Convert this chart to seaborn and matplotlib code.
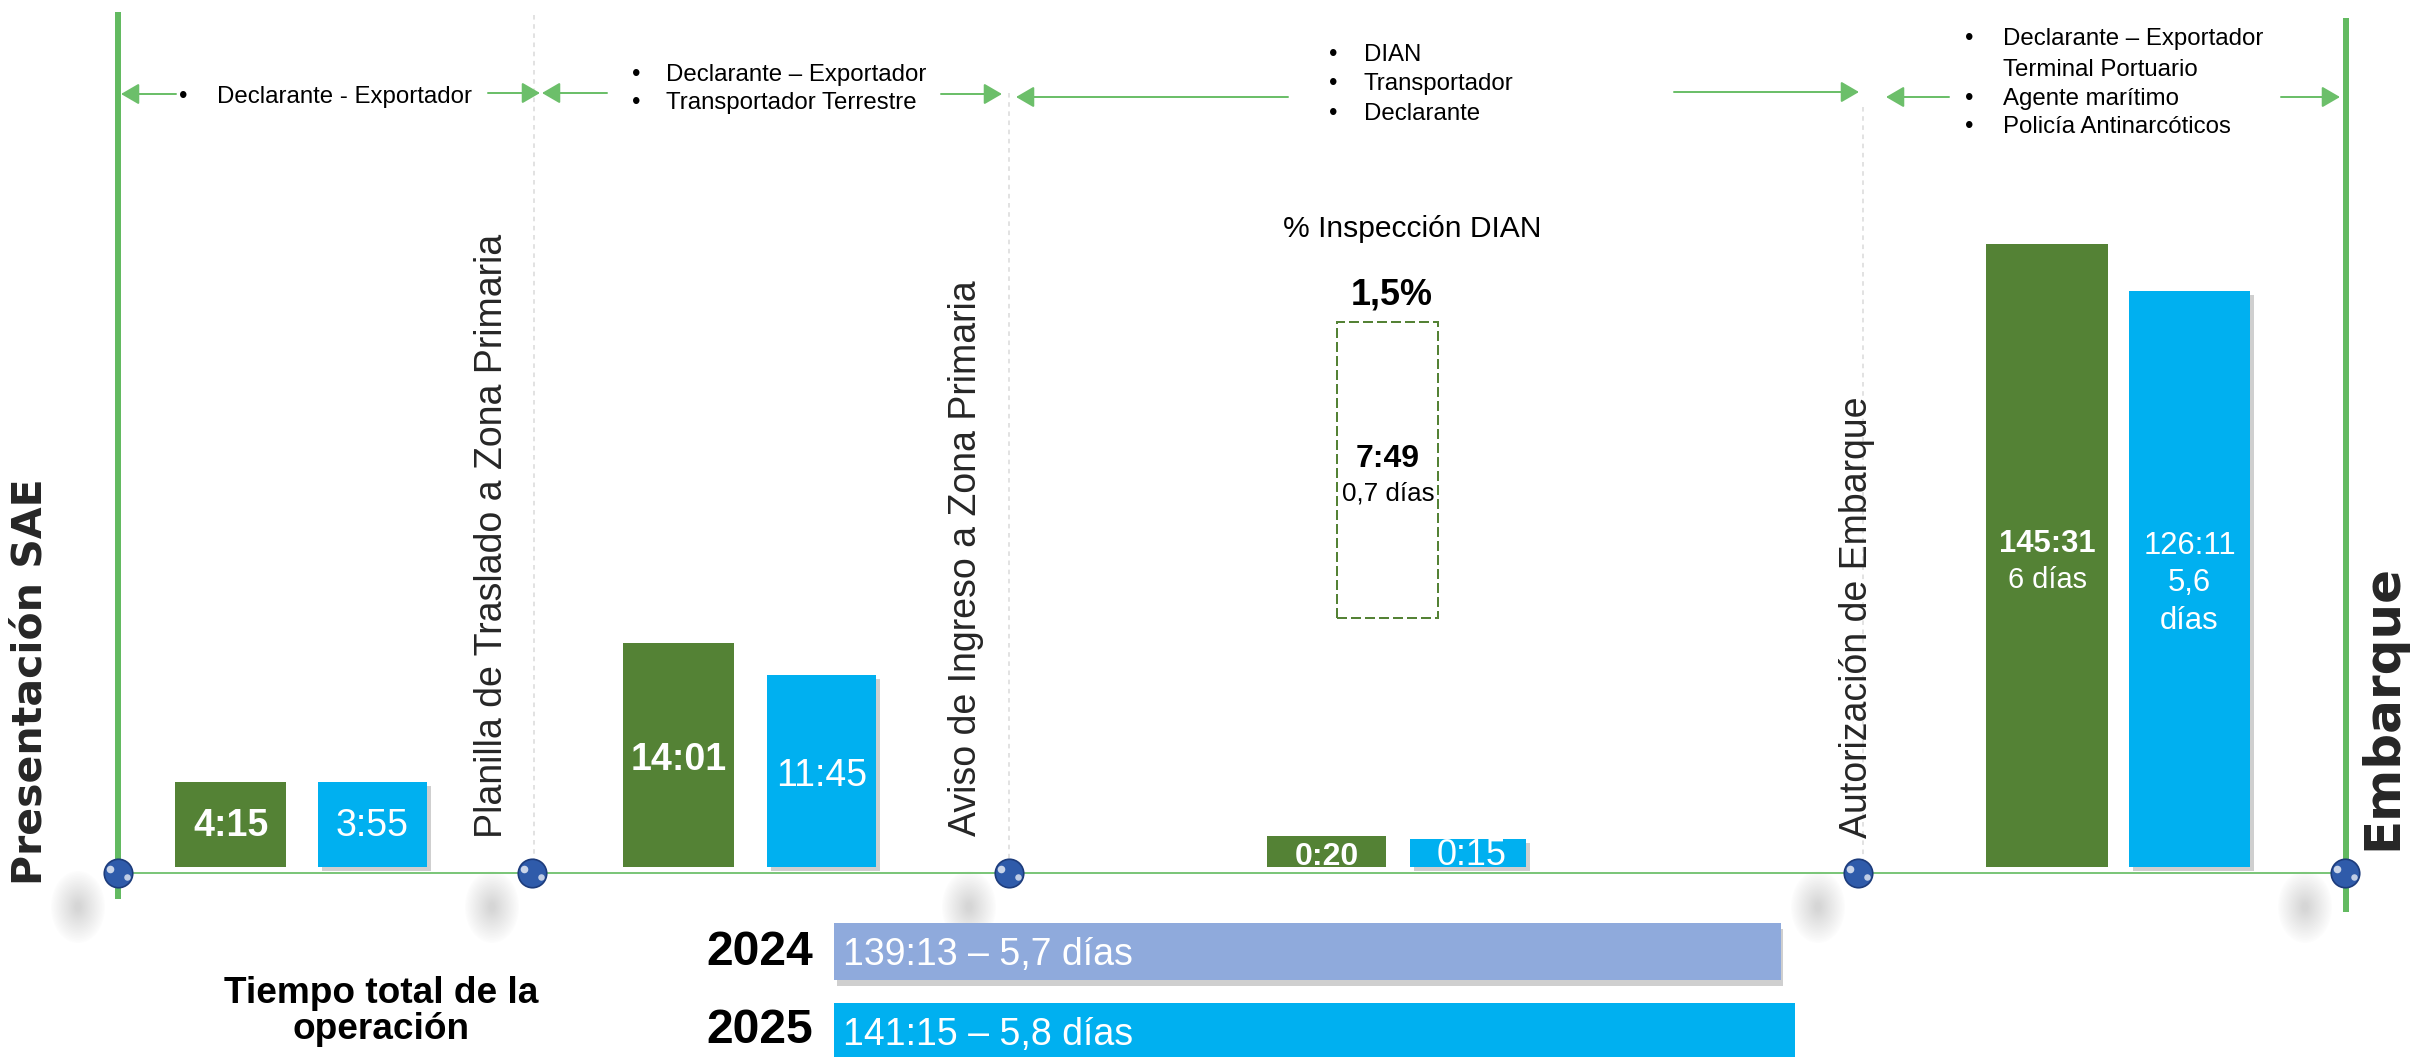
import numpy as np
import pandas as pd
import matplotlib
matplotlib.use("Agg")
import matplotlib.pyplot as plt
import matplotlib.patheffects as pe
from matplotlib.patches import Rectangle, Ellipse
import seaborn as sns

# ------------------------------------------------------------------ data
hitos = ["Presentación SAE", "Planilla de Traslado a Zona Primaria",
         "Aviso de Ingreso a Zona Primaria", "Autorización de Embarque", "Embarque"]
anios = ["2024", "2025"]
tiempos_2024 = ["4:15", "14:01", "0:20", "145:31"]
tiempos_2025 = ["3:55", "11:45", "0:15", "126:11"]
dias_2024 = ["", "", "", "6 días"]
dias_2025 = ["", "", "", "5,6 días"]
alturas_2024 = [91, 230, 37, 629]      # bar heights as drawn in the picture
alturas_2025 = [91, 198, 34, 582]
inspeccion_titulo = "% Inspección DIAN"
inspeccion_pct = "1,5%"
inspeccion_tiempo = "7:49"
inspeccion_dias = "0,7 días"
total_titulo = ["Tiempo total de la", "operación"]
total_etiquetas = ["139:13 – 5,7 días", "141:15 – 5,8 días"]
total_horas = [139 + 13 / 60, 141 + 15 / 60]
actores = [
    ["Declarante - Exportador"],
    ["Declarante – Exportador", "Transportador Terrestre"],
    ["DIAN", "Transportador", "Declarante"],
    ["Declarante – Exportador", "Terminal Portuario", "Agente marítimo", "Policía Antinarcóticos"],
]

# ------------------------------------------------------------------ style / layout
GREEN = "#548235"
BLUE = "#00B0F0"
LAV = "#8FAADC"
LINE_G = "#63BA61"
ARROW_G = "#6CBF6A"
W, H, BASE = 2410, 1057, 873
PX = 0.72  # points per pixel at dpi 100

sns.set_theme(style="white")
plt.rcParams["font.family"] = ["Liberation Sans", "DejaVu Sans"]

fig = plt.figure(figsize=(W / 100, H / 100), dpi=100)
fig.patch.set_facecolor("white")
ax = fig.add_axes([0, 0, 1, 1])


def Y(p):
    return BASE - p


def txt(axx, x, yc, s, px, bold=False, color="black", ha="center", family=None, cap=0.36):
    kw = dict(ha=ha, va="baseline", fontsize=px * PX, color=color,
              fontweight="bold" if bold else "normal", transform=ax.transData, zorder=10)
    if family:
        kw["family"] = family
    axx.text(x, Y(yc + cap * px), s, **kw)


# ------------------------------------------------------------------ stage bars (seaborn)
centros_g = [230.5, 678.5, 1326.5, 2047]
anchos_g = [111, 111, 119, 122]
centros_b = [372.5, 821.5, 1468, 2189.5]
anchos_b = [109, 109, 116, 121]
base_off = 6

df = pd.DataFrame({
    "x": centros_g + centros_b,
    "altura": alturas_2024 + alturas_2025,
    "anio": ["2024"] * 4 + ["2025"] * 4,
})
n0 = len(ax.patches)
sns.barplot(data=df, x="x", y="altura", hue="anio", native_scale=True, dodge=False,
            palette={"2024": GREEN, "2025": BLUE}, saturation=1, errorbar=None,
            legend=False, ax=ax, width=0.6, zorder=4)
geo = {c: w for c, w in zip(centros_g + centros_b, anchos_g + anchos_b)}
for p in ax.patches[n0:]:
    cx = p.get_x() + p.get_width() / 2
    c = min(geo, key=lambda k: abs(k - cx))
    w = geo[c]
    h = p.get_height()
    p.set_x(c - w / 2)
    p.set_width(w)
    p.set_y(base_off)
    p.set_height(h - base_off)
    p.set_linewidth(0)
    if c in centros_b:
        p.set_path_effects([pe.SimplePatchShadow(offset=(3, -3), shadow_rgbFace="#777777", alpha=0.35),
                            pe.Normal()])

ax.set_xlim(0, W)
ax.set_ylim(BASE - H, BASE)
ax.axis("off")

# ------------------------------------------------------------------ timeline lines
ax.plot([118, 118], [Y(12), Y(899)], color=LINE_G, lw=6 * PX, zorder=3, solid_capstyle="butt")
ax.plot([2345.5, 2345.5], [Y(18), Y(912)], color=LINE_G, lw=6 * PX, zorder=3, solid_capstyle="butt")
ax.plot([118, 2345], [0, 0], color="#7CC67A", lw=2 * PX, zorder=2)
for xg, y0 in [(534, 15), (1009, 93), (1863, 107)]:
    ax.plot([xg, xg], [Y(y0), Y(860)], color="#DADADA", lw=1.1, ls=(0, (3, 3)), zorder=1)

# soft shadows of the spheres
hitos_x = [118, 532, 1009, 1858, 2345]
for hx in hitos_x:
    for k in range(20):
        f = 1 - k / 20
        ax.add_patch(Ellipse((hx - 40, Y(907)), 50 * f + 4, 66 * f + 6, color="#A8A8A8",
                             alpha=0.022, lw=0, zorder=1))

# spheres
sns.scatterplot(x=hitos_x, y=[0] * len(hitos_x), s=420, color="#2F5BAA", edgecolor="#1D3C7C",
                linewidth=1.2, ax=ax, zorder=6, legend=False)
ax.scatter([hx - 8 for hx in hitos_x], [4] * 5, s=30, color="white", alpha=0.75, lw=0, zorder=7)
ax.scatter([hx + 9 for hx in hitos_x], [-4] * 5, s=22, color="white", alpha=0.7, lw=0, zorder=7)
ax.set_xlim(0, W)
ax.set_ylim(BASE - H, BASE)

# ------------------------------------------------------------------ arrows
arrows = [(176, 121, 94), (488, 540, 93), (607, 542, 93), (941, 1002, 94),
          (1288, 1016, 97), (1674, 1859, 92), (1949, 1886, 97), (2281, 2340, 97)]
for xa, xb, yy in arrows:
    ax.annotate("", xy=(xb, Y(yy)), xytext=(xa, Y(yy)),
                arrowprops=dict(arrowstyle="-|>,head_length=0.55,head_width=0.32",
                                mutation_scale=20, color=ARROW_G, lw=2 * PX,
                                shrinkA=0, shrinkB=0), zorder=5)

# ------------------------------------------------------------------ actor texts
act_pos = [
    (183, 217, [94], [True]),
    (636, 666, [72, 100], [True, True]),
    (1333, 1364, [52, 81, 111], [True, True, True]),
    (1969, 2003, [36, 67, 96, 124], [True, False, True, True]),
]
for lines, (xb, xt, ys, bul) in zip(actores, act_pos):
    for s, yy, b in zip(lines, ys, bul):
        if b:
            txt(ax, xb, yy, "•", 24)
        txt(ax, xt, yy, s, 24, ha="left")

# ------------------------------------------------------------------ milestone labels (vertical)
vert = [
    (31, 885, 41, True, "DejaVu Sans"),
    (492, 838, 37.5, False, None),
    (966, 836, 37.5, False, None),
    (1857, 838, 37.5, False, None),
    (2382, 850, 50, True, "DejaVu Sans"),
]
for s, (xv, yv, px, b, fam) in zip(hitos, vert):
    kw = dict(rotation=90, rotation_mode="anchor", ha="left", va="center",
              fontsize=px * PX, fontweight="bold" if b else "normal", zorder=10)
    if fam:
        kw["family"] = fam
    ax.text(xv, Y(yv), s, **kw)

# ------------------------------------------------------------------ bar value labels
txt(ax, centros_g[0], 823, tiempos_2024[0], 37.5, bold=True, color="white")
txt(ax, centros_b[0], 823, tiempos_2025[0], 37.5, color="white")
txt(ax, centros_g[1], 757, tiempos_2024[1], 37.5, bold=True, color="white")
txt(ax, centros_b[1], 772, tiempos_2025[1], 37.5, color="white")
txt(ax, centros_g[2], 853, tiempos_2024[2], 32, bold=True, color="white")
txt(ax, 1472, 852, tiempos_2025[2], 36, color="white")
txt(ax, centros_g[3], 541, tiempos_2024[3], 31, bold=True, color="white")
txt(ax, centros_g[3], 579, dias_2024[3], 29, color="white", cap=0.30)
d25 = dias_2025[3].split(" ")
txt(ax, centros_b[3], 543, tiempos_2025[3], 31, color="white")
txt(ax, centros_b[3], 580, d25[0], 31, color="white")
txt(ax, centros_b[3], 620, d25[1], 31, color="white", cap=0.30)

# ------------------------------------------------------------------ inspection box
ax.add_patch(Rectangle((1337, Y(618)), 101, 618 - 322, fill=False, edgecolor=GREEN,
                       lw=2 * PX, ls=(0, (5, 2)), zorder=4))
txt(ax, 1412, 226, inspeccion_titulo, 30)
txt(ax, 1392, 292, inspeccion_pct, 36, bold=True)
txt(ax, 1388, 455, inspeccion_tiempo, 32, bold=True)
txt(ax, 1388, 492, inspeccion_dias, 26, cap=0.33)

# ------------------------------------------------------------------ totals (seaborn horizontal bars)
x0_tot = 834
scale = 6.8  # px per hour
ax_t = fig.add_axes([x0_tot / W, 0, (W - x0_tot) / W, 1])
ax_t.patch.set_alpha(0)
dft = pd.DataFrame({"horas": total_horas, "y": [Y(952), Y(1031.5)], "anio": anios})
sns.barplot(data=dft, x="horas", y="y", hue="anio", orient="h", native_scale=True, dodge=False,
            palette={"2024": LAV, "2025": BLUE}, saturation=1, errorbar=None, legend=False, ax=ax_t)
for p in ax_t.patches:
    cy = p.get_y() + p.get_height() / 2
    p.set_y(cy - 28)
    p.set_height(57)
    p.set_linewidth(0)
    if abs(cy - Y(952)) < 5:
        p.set_path_effects([pe.SimplePatchShadow(offset=(2, -4), shadow_rgbFace="#777777", alpha=0.35),
                            pe.Normal()])
ax_t.set_xlim(0, (W - x0_tot) / scale)
ax_t.set_ylim(BASE - H, BASE)
ax_t.axis("off")

for s, yy in zip(total_etiquetas, [952, 1031]):
    txt(ax_t, 843, yy, s, 37.5, color="white", ha="left")
for s, yy in zip(anios, [948, 1026]):
    txt(ax, 760, yy, s, 48, bold=True)
txt(ax, 381, 990, total_titulo[0], 37, bold=True)
txt(ax, 381, 1026, total_titulo[1], 37, bold=True)

fig.savefig("out.png", dpi=100, facecolor="white")
